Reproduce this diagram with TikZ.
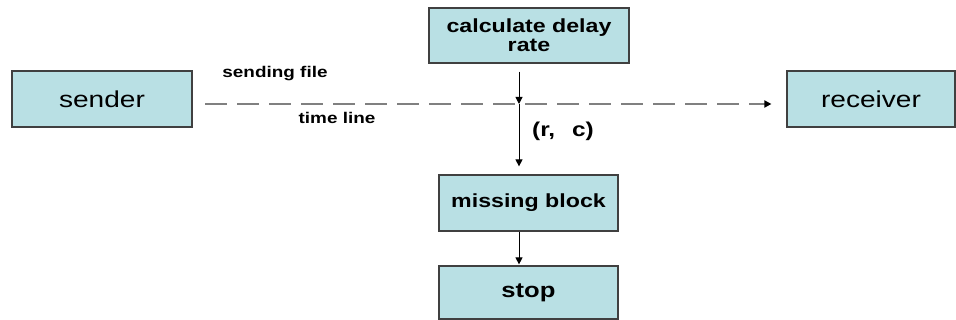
\documentclass[tikz,border=0pt]{standalone}
\usepackage{fontspec}
\setmainfont{Liberation Sans}[FakeStretch=1.22]
\usetikzlibrary{arrows.meta}
\definecolor{boxfill}{RGB}{185,224,228}
\definecolor{boxline}{RGB}{64,64,64}
\definecolor{lineGray}{RGB}{128,128,128}
\tikzset{
  block/.style={draw=boxline, line width=1.2pt, fill=boxfill, align=center,
    inner sep=0pt},
  bigreg/.style={font=\fontsize{23}{26}\selectfont},
  bigbold/.style={font=\fontsize{19}{19}\selectfont\bfseries},
  smalllbl/.style={font=\fontsize{15.5}{17}\selectfont\bfseries, inner sep=0pt},
  flow/.style={line width=1pt, -{Triangle[length=7pt,width=7pt]}},
  timeline/.style={draw=lineGray, line width=2.2pt, dash pattern=on 22pt off 10pt,
    -{Triangle[length=7pt,width=7pt,fill=black,color=black]}}
}
\begin{document}
\begin{tikzpicture}[x=1pt,y=-1pt]
  \useasboundingbox (0,0) rectangle (956,320);
  % boxes
  \node[block,bigreg,minimum width=180pt,minimum height=56pt] (sender) at (102,99) {sender};
  \node[block,bigreg,minimum width=168pt,minimum height=56pt] (receiver) at (871,99) {receiver};
  \node[block,bigbold,minimum width=200pt,minimum height=55pt] (calc) at (529,35.5) {calculate delay\\rate};
  \node[block,bigbold,minimum width=179pt,minimum height=56pt] (missing) at (528.5,203) {missing block};
  \node[block,minimum width=179pt,minimum height=53pt,
        font=\fontsize{21}{21}\selectfont\bfseries] (stop) at (528.5,292.5) {stop};
  % time line
  \coordinate (lstart) at (205,104);
  \coordinate (ax) at (519,0);
  \draw[timeline] (lstart) -- ([xshift=-15pt]receiver.west |- lstart);
  \node[smalllbl] (sendlbl) at (275,74) {sending file};
  \node[smalllbl] (timelbl) at (337,118) {time line};
  % vertical flow
  \draw[flow, shorten <=8pt] (calc.south -| ax) -- (lstart -| ax);
  \draw[flow, shorten >=8pt] (lstart -| ax) -- (missing.north -| ax);
  \node[inner sep=0pt, font=\fontsize{20}{20}\selectfont\bfseries] (rc) at (563,131) {(r,\ \ \,c)};
  \draw[flow, shorten >=1pt] (missing.south -| ax) -- (stop.north -| ax);
\end{tikzpicture}
\end{document}
